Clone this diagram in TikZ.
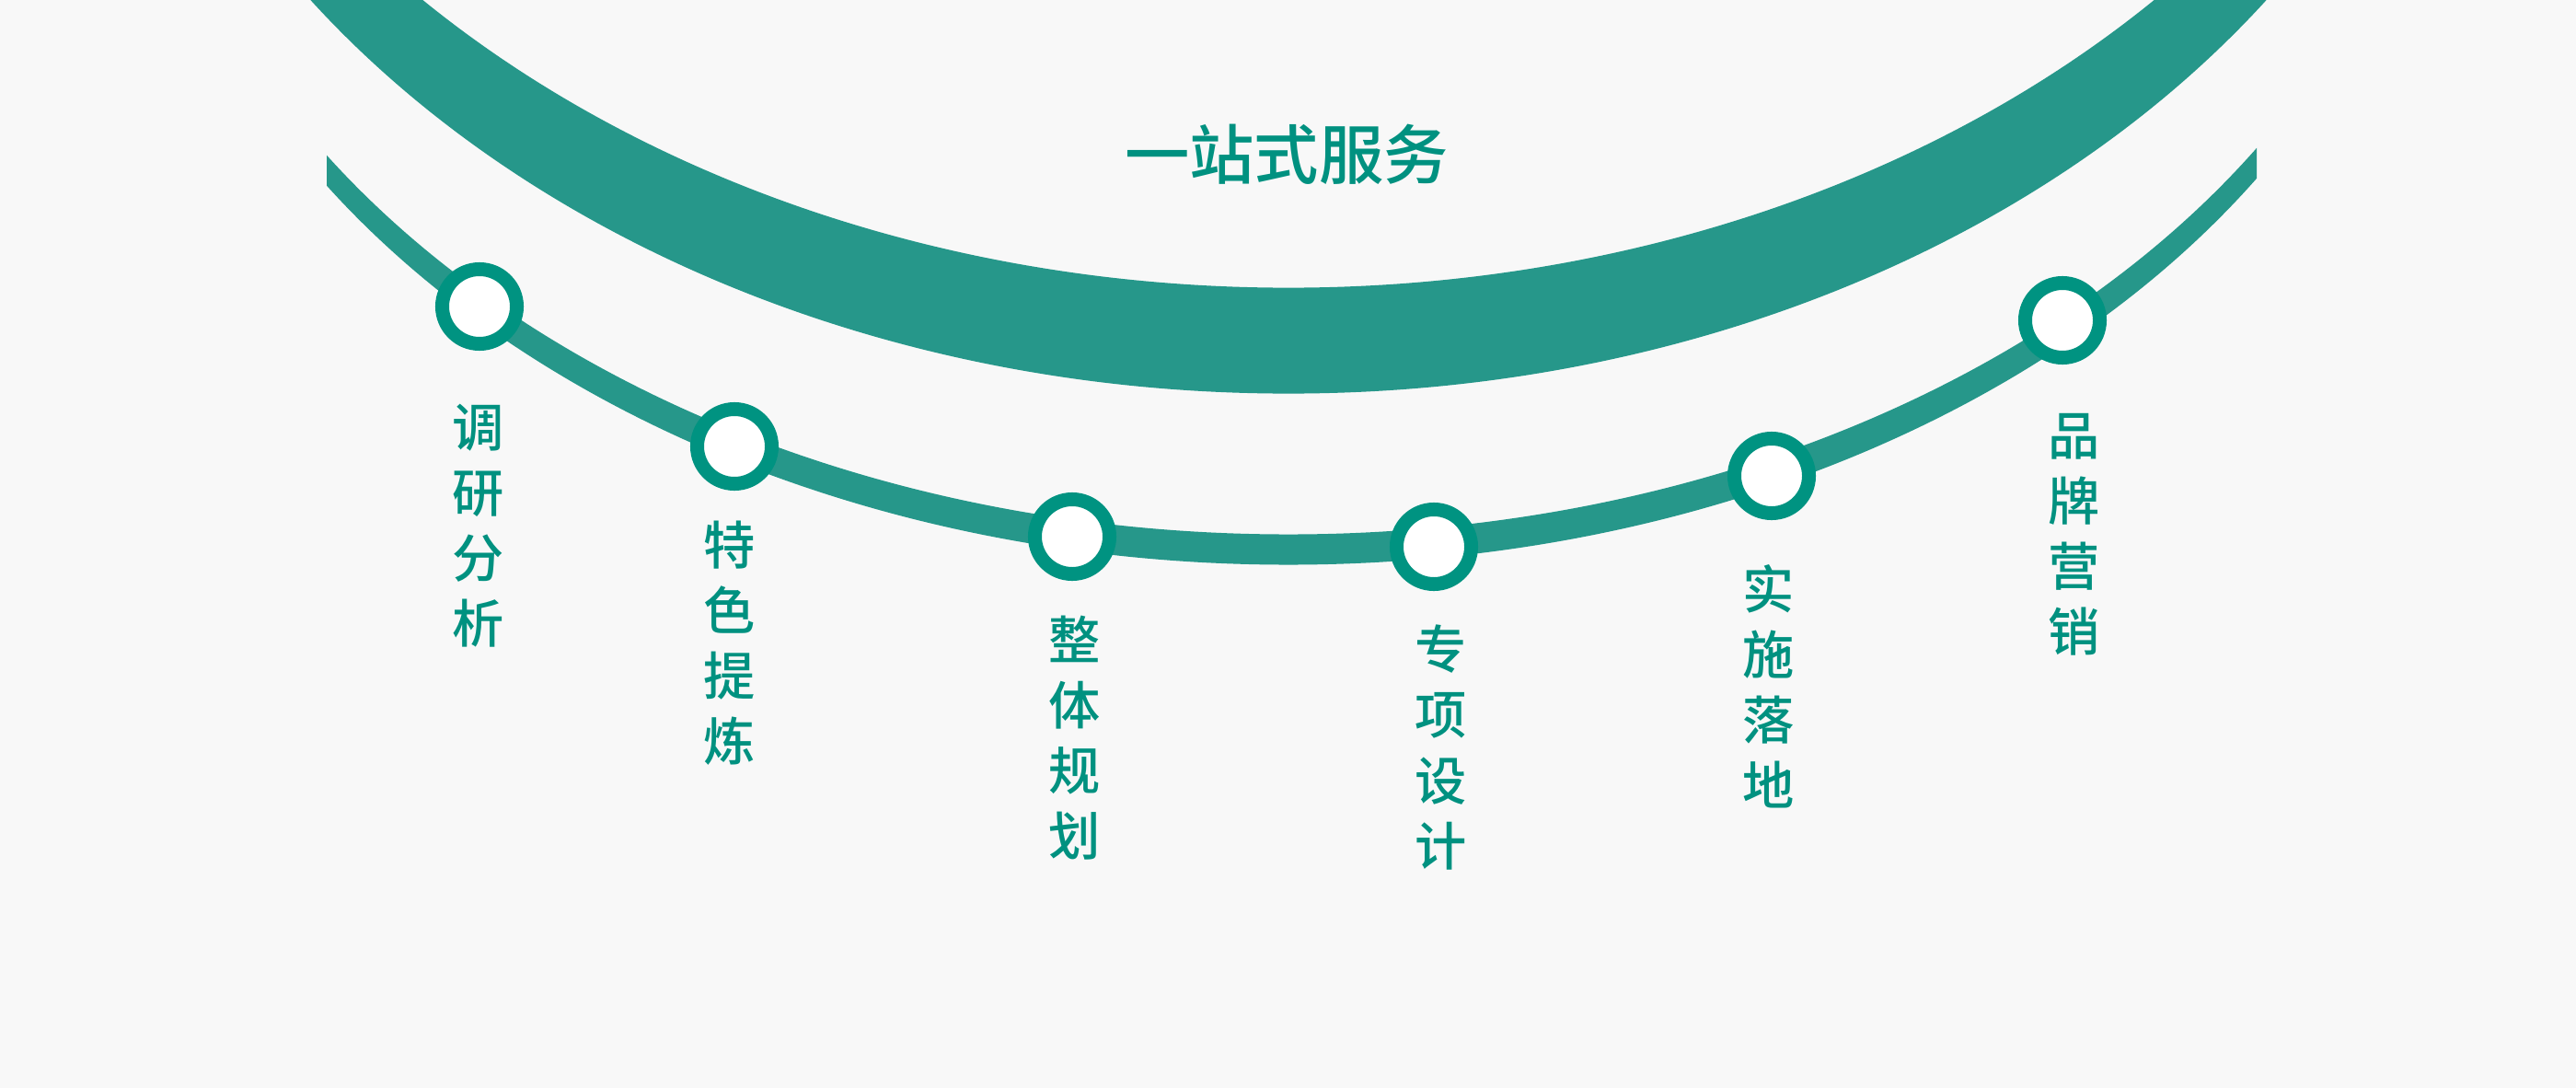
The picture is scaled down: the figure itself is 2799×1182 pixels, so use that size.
\documentclass[tikz,border=0pt]{standalone}
\usepackage{fontspec}
\usepackage{xcolor}
\usepackage{tikz}
\newfontfamily\cjk{Noto Sans CJK SC Medium}
\definecolor{bggray}{RGB}{248,248,248}
\definecolor{bandteal}{RGB}{38,151,138}
\definecolor{ringteal}{RGB}{0,147,129}
\definecolor{labelteal}{RGB}{0,145,128}
\tikzset{
  stepring/.style={circle, draw=ringteal, fill=white,
    line width=0.15cm, minimum size=0.81cm, inner sep=0pt},
  steplabel/.style={text=labelteal, align=center, inner sep=0pt,
    font=\cjk\fontsize{16}{20.2}\selectfont},
  titletext/.style={text=labelteal, inner sep=0pt,
    font=\cjk\fontsize{20}{24}\selectfont},
  band/.style={fill=bandteal, even odd rule}
}
\begin{document}
\begin{tikzpicture}[x=0.01cm, y=-0.01cm]
  \path[use as bounding box, fill=bggray] (0,0) rectangle (2799,1182);

  % Upper wide band
  \begin{scope}
    \clip (0,0) rectangle (2799,1182);
    \path[band] (1400,-583) ellipse [x radius=13cm, y radius=10.1cm]
                (1400,-698) ellipse [x radius=13cm, y radius=10.1cm];
  \end{scope}

  % Lower thin band
  \begin{scope}
    \clip (355,0) rectangle (2452,1182);
    \path[band] (1400,-301) ellipse [x radius=12.5cm, y radius=9.14cm]
                (1400,-334) ellipse [x radius=12.5cm, y radius=9.14cm];
  \end{scope}

  % Title
  \node[titletext] (title) at (1398,168) {一站式服务};

  % Step rings
  \node[stepring] (s1) at (521,333) {};
  \node[stepring] (s2) at (798,485) {};
  \node[stepring] (s3) at (1165,583) {};
  \node[stepring] (s4) at (1558,594) {};
  \node[stepring] (s5) at (1925,517) {};
  \node[stepring] (s6) at (2241,348) {};

  % Step labels
  \node[steplabel] (l1) at (520,571) {调\\研\\分\\析};
  \node[steplabel] (l2) at (793,699) {特\\色\\提\\炼};
  \node[steplabel] (l3) at (1168,802) {整\\体\\规\\划};
  \node[steplabel] (l4) at (1566,812) {专\\项\\设\\计};
  \node[steplabel] (l5) at (1922,746) {实\\施\\落\\地};
  \node[steplabel] (l6) at (2254,581) {品\\牌\\营\\销};
\end{tikzpicture}
\end{document}
